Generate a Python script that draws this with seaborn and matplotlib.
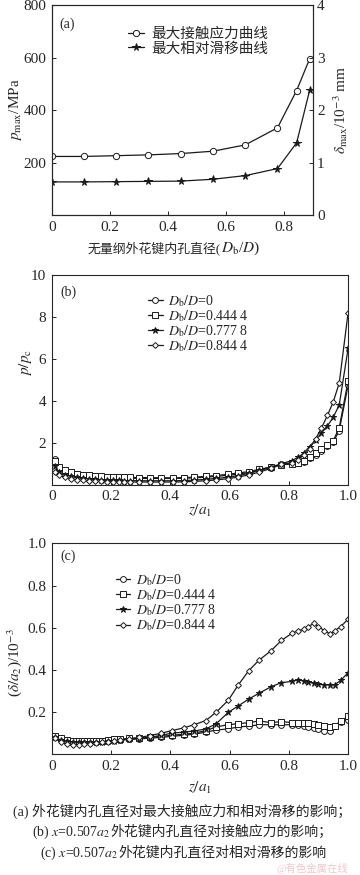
import numpy as np
import matplotlib
matplotlib.use("Agg")
import matplotlib.pyplot as plt
from matplotlib.legend_handler import HandlerLine2D
import seaborn as sns

# (a) max contact pressure / max relative slip vs bore ratio
xa = [0, 0.111, 0.222, 0.333, 0.444, 0.556, 0.667, 0.778, 0.844, 0.889]
pmax = [224, 224, 227, 230, 235, 244, 268, 333, 475, 596]
dmax = [0.635, 0.635, 0.64, 0.645, 0.65, 0.686, 0.755, 0.889, 1.378, 2.38]
labels_a = ["最大接触应力曲线", "最大相对滑移曲线"]

# (b) p/pc along z/a1
xb = [0.01, 0.025, 0.045, 0.065, 0.085, 0.105, 0.125, 0.145, 0.165, 0.185,
      0.205, 0.225, 0.245, 0.265, 0.295, 0.33, 0.37, 0.41, 0.445, 0.48,
      0.52, 0.555, 0.595, 0.63, 0.665, 0.70, 0.74, 0.775, 0.81, 0.83,
      0.85, 0.87, 0.89, 0.91, 0.93, 0.95, 0.97, 1.0]
b_0 = [1.25, 0.82, 0.65, 0.56, 0.5, 0.45, 0.42, 0.39, 0.37, 0.35,
       0.33, 0.32, 0.31, 0.31, 0.30, 0.30, 0.30, 0.30, 0.31, 0.33,
       0.36, 0.40, 0.45, 0.51, 0.58, 0.68, 0.82, 0.97, 0.98, 1.02,
       1.08, 1.26, 1.44, 1.63, 1.84, 2.03, 2.58, 4.75]
b_4444 = [1.12, 0.85, 0.7, 0.6, 0.53, 0.48, 0.45, 0.42, 0.40, 0.38,
          0.37, 0.36, 0.35, 0.35, 0.34, 0.34, 0.33, 0.33, 0.34, 0.36,
          0.40, 0.44, 0.50, 0.56, 0.63, 0.73, 0.85, 0.95, 1.0, 1.05,
          1.12, 1.33, 1.5, 1.68, 1.9, 2.1, 2.72, 4.95]
b_7778 = [0.87, 0.6, 0.47, 0.4, 0.35, 0.31, 0.28, 0.26, 0.24, 0.23,
          0.22, 0.21, 0.20, 0.20, 0.19, 0.19, 0.19, 0.19, 0.20, 0.22,
          0.26, 0.30, 0.36, 0.44, 0.54, 0.68, 0.85, 1.0, 1.15, 1.3,
          1.5, 1.82, 2.12, 2.46, 2.8, 3.22, 3.8, 6.5]
b_8444 = [0.63, 0.45, 0.35, 0.29, 0.24, 0.21, 0.19, 0.17, 0.16, 0.15,
          0.14, 0.14, 0.13, 0.13, 0.13, 0.13, 0.13, 0.13, 0.14, 0.16,
          0.19, 0.23, 0.29, 0.37, 0.47, 0.6, 0.78, 0.97, 1.05, 1.2,
          1.4, 1.72, 2.18, 2.7, 3.3, 3.95, 4.85, 8.2]

# (c) delta/a2 along z/a1
xc = [0.01, 0.03, 0.05, 0.07, 0.09, 0.11, 0.13, 0.15, 0.17, 0.19,
      0.21, 0.23, 0.26, 0.295, 0.33, 0.37, 0.405, 0.445, 0.48, 0.52,
      0.555, 0.595, 0.63, 0.665, 0.70, 0.74, 0.775, 0.81, 0.83, 0.85,
      0.865, 0.885, 0.90, 0.92, 0.94, 0.955, 0.975, 1.0]
c_0 = [0.08, 0.07, 0.065, 0.062, 0.06, 0.06, 0.06, 0.06, 0.062, 0.064,
       0.066, 0.068, 0.07, 0.073, 0.076, 0.08, 0.085, 0.09, 0.095, 0.105,
       0.115, 0.12, 0.13, 0.133, 0.14, 0.14, 0.14, 0.14, 0.138, 0.135,
       0.13, 0.125, 0.12, 0.112, 0.112, 0.136, 0.155, 0.164]
c_4444 = [0.085, 0.075, 0.068, 0.065, 0.063, 0.062, 0.062, 0.063, 0.065, 0.067,
          0.07, 0.072, 0.075, 0.077, 0.08, 0.085, 0.09, 0.095, 0.1, 0.112,
          0.13, 0.14, 0.145, 0.15, 0.158, 0.15, 0.155, 0.15, 0.15, 0.15,
          0.148, 0.145, 0.14, 0.132, 0.13, 0.136, 0.157, 0.18]
c_7778 = [0.08, 0.068, 0.062, 0.058, 0.056, 0.056, 0.057, 0.058, 0.06, 0.062,
          0.065, 0.068, 0.072, 0.075, 0.08, 0.09, 0.1, 0.105, 0.11, 0.12,
          0.145, 0.198, 0.23, 0.262, 0.29, 0.32, 0.34, 0.345, 0.353, 0.348,
          0.343, 0.336, 0.332, 0.329, 0.329, 0.33, 0.35, 0.387]
c_8444 = [0.075, 0.06, 0.05, 0.045, 0.045, 0.048, 0.05, 0.053, 0.056, 0.06,
          0.063, 0.066, 0.072, 0.08, 0.088, 0.1, 0.112, 0.125, 0.14, 0.16,
          0.2, 0.255, 0.33, 0.397, 0.447, 0.491, 0.54, 0.573, 0.586, 0.592,
          0.605, 0.621, 0.605, 0.586, 0.57, 0.586, 0.605, 0.641]

ratio_labels = [r"$D_{\rm b}/D$=0", r"$D_{\rm b}/D$=0.444 4",
                r"$D_{\rm b}/D$=0.777 8", r"$D_{\rm b}/D$=0.844 4"]
markers = ["o", "s", "*", "D"]
msizes = [4.2, 4.2, 5.0, 3.0]

sns.set_theme(style="ticks")
plt.rcParams["font.family"] = ["Liberation Serif", "Noto Sans CJK SC"]
plt.rcParams["mathtext.fontset"] = "stix"
plt.rcParams["axes.linewidth"] = 0.8
plt.rcParams["xtick.direction"] = "in"
plt.rcParams["ytick.direction"] = "in"


class MarkerLeft(HandlerLine2D):
    # legend key drawn as "o——": marker on the left, line to the right
    def get_xdata(self, legend, xdescent, ydescent, width, height, fontsize):
        xdata = np.array([-xdescent + width * 0.35, -xdescent + width])
        return xdata, np.array([-xdescent + width * 0.05])


def draw(ax, x, y, m, ms, label):
    face = "k" if m == "*" else "white"
    sns.lineplot(x=x, y=y, ax=ax, color="k", lw=0.9, marker=m, markersize=ms,
                 markerfacecolor=face, markeredgecolor="k", markeredgewidth=0.7,
                 label=label, legend=False, sort=False)


W, H = 360, 875
fs = 11
fig = plt.figure(figsize=(3.6, 8.75), dpi=100)


def ftext(px, py, s, **kw):
    # place text by pixel centre (from top-left)
    kw.setdefault("ha", "center")
    kw.setdefault("va", "center")
    fig.text(px / W, 1 - py / H, s, **kw)


def split_text(px, py, left, right, size, size_r=None):
    # CJK + mathtext can't share one string, so glue two pieces at px
    ftext(px, py, left, ha="right", va="baseline", fontsize=size)
    ftext(px, py, right, ha="left", va="baseline", fontsize=size_r or size)


# ---- (a)
ax = fig.add_axes([0.144, 0.754, 0.725, 0.240])
draw(ax, xa, pmax, "o", 4.5, labels_a[0])
ax.set_xlim(0, 0.9)
ax.set_ylim(0, 800)
ax.set_xticks([0, 0.2, 0.4, 0.6, 0.8])
ax.set_xticklabels(["0", "0.2", "0.4", "0.6", "0.8"])
ax.set_yticks([200, 400, 600, 800])
ax.set_xlabel("")
ax.set_ylabel("")
ax.tick_params(labelsize=fs, length=3, width=0.7, pad=4)
ax.text(0.03, 0.94, "(a)", transform=ax.transAxes, fontsize=10, va="top")
ftext(15, 110, r"$p_{\rm max}$/MPa", rotation=90, fontsize=fs)
split_text(221, 252, "无量纲外花键内孔直径(", r"$D_{\rm b}$/$D$)", 9.3, fs)

ax2 = ax.twinx()
draw(ax2, xa, dmax, "*", 5.5, labels_a[1])
ax2.set_ylim(0, 4)
ax2.set_yticks([0, 1, 2, 3, 4])
ax2.set_ylabel("")
ax2.tick_params(labelsize=fs, length=3, width=0.7, pad=3, direction="in")
ftext(341, 110, r"$\delta_{\rm max}$/10$^{-3}$ mm", rotation=90, fontsize=fs)
handles = ax.get_lines() + ax2.get_lines()
ax2.legend(handles=handles, labels=labels_a, loc="upper left",
           bbox_to_anchor=(0.24, 0.92), frameon=False, fontsize=10.5,
           handlelength=1.6, handletextpad=0.5, labelspacing=0.05,
           borderaxespad=0, handler_map={plt.Line2D: MarkerLeft(numpoints=1)})

# ---- (b)
axb = fig.add_axes([0.144, 0.446, 0.823, 0.240])
for ys, m, ms, lab in zip([b_0, b_4444, b_7778, b_8444], markers, msizes, ratio_labels):
    draw(axb, xb, ys, m, ms, lab)
axb.set_xlim(0, 1.0)
axb.set_ylim(0, 10)
axb.set_xticks([0, 0.2, 0.4, 0.6, 0.8, 1.0])
axb.set_xticklabels(["0", "0.2", "0.4", "0.6", "0.8", "1.0"])
axb.set_yticks([2, 4, 6, 8, 10])
axb.set_xlabel("")
axb.set_ylabel("")
axb.tick_params(labelsize=fs, length=3, width=0.7, pad=4)
axb.text(0.03, 0.95, "(b)", transform=axb.transAxes, fontsize=10, va="top")
ftext(200, 511, r"$z/a_1$", fontsize=fs)
ftext(26, 362, r"$p/p_{\rm c}$", rotation=90, fontsize=fs)
axb.legend(handles=axb.get_lines(), labels=ratio_labels, loc="upper left",
           bbox_to_anchor=(0.28, 0.94), frameon=False, fontsize=10,
           handlelength=1.6, handletextpad=0.4, labelspacing=-0.05,
           borderaxespad=0, handler_map={plt.Line2D: MarkerLeft(numpoints=1)})

# ---- (c)
axc = fig.add_axes([0.144, 0.138, 0.823, 0.241])
for ys, m, ms, lab in zip([c_0, c_4444, c_7778, c_8444], markers, msizes, ratio_labels):
    draw(axc, xc, ys, m, ms, lab)
axc.set_xlim(0, 1.0)
axc.set_ylim(0, 1.0)
axc.set_xticks([0, 0.2, 0.4, 0.6, 0.8, 1.0])
axc.set_xticklabels(["0", "0.2", "0.4", "0.6", "0.8", "1.0"])
axc.set_yticks([0.2, 0.4, 0.6, 0.8, 1.0])
axc.set_xlabel("")
axc.set_ylabel("")
axc.tick_params(labelsize=fs, length=3, width=0.7, pad=4)
axc.text(0.03, 0.97, "(c)", transform=axc.transAxes, fontsize=10, va="top")
ftext(200, 788, r"$z/a_1$", fontsize=fs)
ftext(15, 663, r"($\delta/a_2$)/10$^{-3}$", rotation=90, fontsize=fs)
axc.legend(handles=axc.get_lines(), labels=ratio_labels, loc="upper left",
           bbox_to_anchor=(0.17, 0.89), frameon=False, fontsize=10,
           handlelength=1.6, handletextpad=0.4, labelspacing=-0.05,
           borderaxespad=0, handler_map={plt.Line2D: MarkerLeft(numpoints=1)})

# captions
ftext(13, 816, "(a) 外花键内孔直径对最大接触应力和相对滑移的影响；",
      ha="left", va="baseline", fontsize=10)
split_text(110, 836, r"(b) $x$=0.507$a_2$", "外花键内孔直径对接触应力的影响；", 10)
split_text(118, 857, r"(c) $x$=0.507$a_2$", "外花键内孔直径对相对滑移的影响", 10)
ftext(348, 868, "@有色金属在线", ha="right", fontsize=7.5, color="#f4c6cc")

fig.savefig("out.png", dpi=100)
